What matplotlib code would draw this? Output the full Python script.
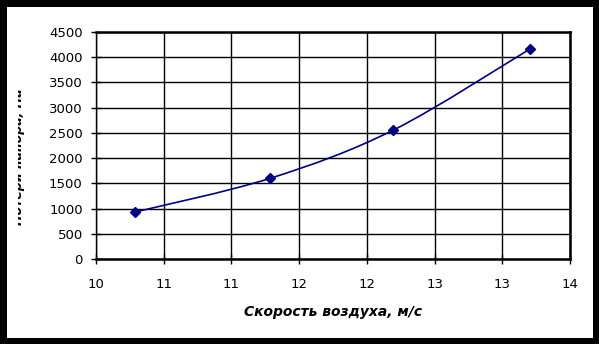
import matplotlib
matplotlib.use("Agg")
import matplotlib.pyplot as plt
import numpy as np
from matplotlib.path import Path
from matplotlib.patches import PathPatch, Rectangle
from matplotlib.transforms import Bbox
from matplotlib.ticker import FixedLocator, FixedFormatter

# data
air_speed = [10.33, 11.47, 12.51, 13.66]
pressure = [931, 1600, 2557, 4160]
x_ticks = [10 + i * 4 / 7 for i in range(8)]
x_tick_labels = ["10", "11", "11", "12", "12", "13", "13", "14"]
y_ticks = list(range(0, 4501, 500))
x_label = "Скорость воздуха, м/с"
y_label = "Потери напора, Па"

W, H = 599, 344
fig = plt.figure(figsize=(W / 100, H / 100), dpi=100)
fig.patch.set_facecolor("black")
fig.patches.append(Rectangle((7 / W, 6 / H), 586 / W, 331 / H, transform=fig.transFigure,
                             facecolor="white", edgecolor="none", zorder=-5))

ax = fig.add_axes([96 / W, 1 - 259 / H, 474 / W, 227 / H])
ax.set_zorder(2)
ax.set_facecolor("white")
ax.set_xlim(10, 14)
ax.set_ylim(0, 4500)
ax.xaxis.set_major_locator(FixedLocator(x_ticks))
ax.xaxis.set_major_formatter(FixedFormatter(x_tick_labels))
ax.set_yticks(y_ticks)
ax.grid(True, color="black", linewidth=1.0)
ax.set_axisbelow(True)
for name, sp in ax.spines.items():
    sp.set_color("black")
    sp.set_linewidth(1.0 if name == "left" else 1.8)
ax.tick_params(axis="both", direction="inout", length=7, width=1, colors="black",
               labelsize=9.5)
ax.tick_params(axis="y", pad=6)
ax.tick_params(axis="x", pad=10)
for lab in ax.get_xticklabels() + ax.get_yticklabels():
    lab.set_family("DejaVu Sans")

# smoothed curve (Catmull-Rom -> Bezier)
px = np.array(air_speed, float)
py = np.array(pressure, float)
n = len(px)
verts = [(px[0], py[0])]
codes = [Path.MOVETO]
for i in range(n - 1):
    x0, y0 = (px[i - 1], py[i - 1]) if i > 0 else (px[i], py[i])
    x1, y1 = px[i], py[i]
    x2, y2 = px[i + 1], py[i + 1]
    x3, y3 = (px[i + 2], py[i + 2]) if i + 2 < n else (px[i + 1], py[i + 1])
    c1 = (x1 + (x2 - x0) / 6, y1 + (y2 - y0) / 6)
    c2 = (x2 - (x3 - x1) / 6, y2 - (y3 - y1) / 6)
    verts += [c1, c2, (x2, y2)]
    codes += [Path.CURVE4] * 3
ax.add_patch(PathPatch(Path(verts, codes), transform=ax.transData, facecolor="none",
                       edgecolor="#000080", linewidth=1.2, zorder=3))
ax.plot(air_speed, pressure, linestyle="none", marker="D", markersize=5,
        color="#000080", zorder=4)

ax.set_xlabel(x_label, fontsize=10, fontweight="bold", fontstyle="italic",
              family="DejaVu Sans", labelpad=10)

t = fig.text(18.5 / W, 1 - 157 / H, y_label, rotation=90, ha="center", va="center",
             fontsize=9, fontweight="bold", fontstyle="italic", family="DejaVu Sans",
             zorder=5)
t.set_clip_box(Bbox.from_extents(18.0, 0, 60, H))
t.set_clip_on(True)

fig.savefig("out.png", dpi=100, facecolor=fig.get_facecolor())
